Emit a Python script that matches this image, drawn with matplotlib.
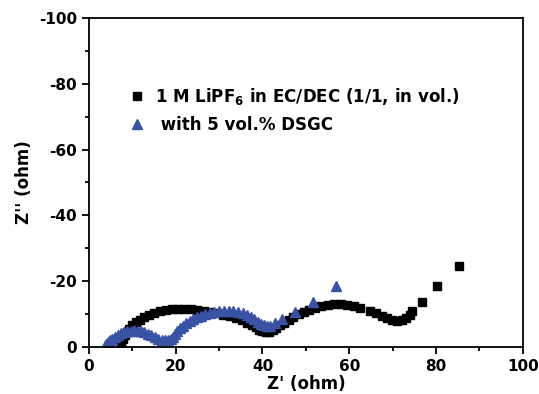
import matplotlib
matplotlib.use('Agg')
import matplotlib.pyplot as plt
from matplotlib.ticker import MultipleLocator

plt.rcParams['font.family'] = ['DejaVu Sans']
plt.rcParams['font.weight'] = 'bold'
plt.rcParams['axes.unicode_minus'] = False
plt.rcParams['mathtext.default'] = 'bf'

# 1 M LiPF6 in EC/DEC (black squares)
base_x = [7.3, 7.5, 7.8, 8.2, 8.7, 9.3, 10.0, 10.8, 11.7, 12.7, 13.8, 15.0, 16.3, 17.7,
          19.1, 20.5, 22.0, 23.5, 25.0, 26.5, 28.0, 29.5, 31.0, 32.5, 34.0, 35.3, 36.5,
          37.6, 38.5, 39.3, 40.0, 40.8, 41.6, 42.4, 43.2, 44.1, 45.0, 46.0, 47.1, 48.3,
          49.5, 50.8, 52.1, 53.5, 55.0, 56.5, 58.0, 59.5, 61.0, 62.5, 64.8, 66.2, 67.5,
          68.7, 69.9, 71.0, 72.1, 73.1, 73.9, 74.5, 76.7, 80.3, 85.4]
base_y = [-0.5, -1.5, -2.5, -3.5, -4.5, -5.5, -6.5, -7.4, -8.2, -9.0, -9.7, -10.3, -10.8, -11.2,
          -11.4, -11.5, -11.5, -11.4, -11.2, -10.9, -10.6, -10.2, -9.7, -9.2, -8.6, -8.0, -7.3,
          -6.6, -5.9, -5.2, -4.7, -4.4, -4.5, -5.0, -5.7, -6.5, -7.3, -8.2, -9.1, -9.9,
          -10.6, -11.3, -11.9, -12.4, -12.8, -13.0, -13.0, -12.8, -12.3, -11.8, -11.0, -10.2, -9.3,
          -8.6, -8.1, -7.9, -8.1, -8.7, -9.7, -10.8, -13.5, -18.5, -24.6]

# with 5 vol.% DSGC (blue triangles)
dsgc_x = [3.6, 4.0, 4.4, 4.9, 5.4, 6.0, 6.6, 7.3, 8.0, 8.8, 9.6, 10.4, 11.2, 12.0, 12.8,
          13.6, 14.4, 15.2, 16.0, 16.8, 17.5, 18.2, 18.8, 19.3, 19.8, 20.4, 21.0, 21.7,
          22.4, 23.2, 24.0, 24.9, 25.8, 26.8, 27.8, 28.9, 30.0, 31.1, 32.2, 33.3, 34.4,
          35.4, 36.4, 37.3, 38.1, 38.9, 39.6, 40.3, 41.0, 41.7, 42.9, 44.6, 47.6, 51.7, 57.0]
dsgc_y = [-0.2, -0.7, -1.3, -1.9, -2.5, -3.1, -3.6, -4.1, -4.5, -4.8, -4.9, -5.0, -4.9, -4.7, -4.4,
          -4.0, -3.5, -3.0, -2.5, -2.1, -1.9, -1.9, -2.2, -3.0, -3.9, -4.8, -5.6, -6.4,
          -7.1, -7.8, -8.4, -9.0, -9.5, -10.0, -10.4, -10.7, -10.9, -11.0, -11.0, -10.9, -10.6,
          -10.2, -9.6, -9.0, -8.3, -7.6, -7.0, -6.5, -6.2, -6.3, -7.1, -8.3, -10.6, -13.6, -18.4]

fig = plt.figure(figsize=(5.39, 3.94), dpi=100)
ax = fig.add_axes([0.165, 0.12, 0.805, 0.834])

ax.plot(base_x, base_y, linestyle='none', marker='s', markersize=5.5, color='black',
        label=r'1 M LiPF$_\mathbf{6}$ in EC/DEC (1/1, in vol.)')
ax.plot(dsgc_x, dsgc_y, linestyle='none', marker='^', markersize=7, color='#3953a4',
        label=' with 5 vol.% DSGC')

ax.set_xlim(0, 100)
ax.set_ylim(0, -100)
ax.xaxis.set_major_locator(MultipleLocator(20))
ax.xaxis.set_minor_locator(MultipleLocator(10))
ax.yaxis.set_major_locator(MultipleLocator(20))
ax.yaxis.set_minor_locator(MultipleLocator(10))
ax.tick_params(which='major', direction='out', length=5, width=1.3, labelsize=11)
ax.tick_params(which='minor', direction='out', length=3, width=1.3)
for s in ax.spines.values():
    s.set_linewidth(1.3)

ax.set_xlabel("Z' (ohm)", fontsize=12, fontweight='bold', labelpad=1)
ax.set_ylabel("Z'' (ohm)", fontsize=12, fontweight='bold', labelpad=4)

ax.legend(loc='upper left', bbox_to_anchor=(0.056, 0.84), frameon=False, fontsize=12,
          handletextpad=0.6, labelspacing=0.55, handlelength=1.0)

fig.savefig('out.png', dpi=100)
